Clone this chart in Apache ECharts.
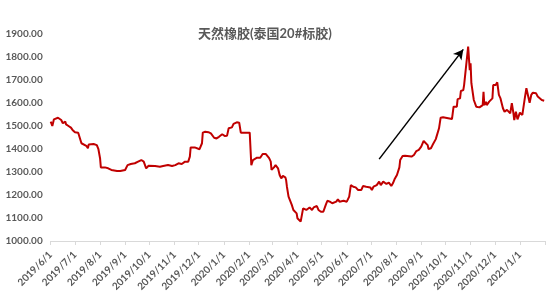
<!DOCTYPE html>
<html><head><meta charset="utf-8">
<script src="https://cdn.jsdelivr.net/npm/echarts@6/dist/echarts.min.js"></script>
<style>html,body{margin:0;padding:0;background:#fff}#c{width:550px;height:294px}</style>
</head><body><div id="c"></div>
<script>
const titleText = '天然橡胶(泰国20#标胶)';
const axisStart = '2019-06-01';
const axisEnd = '2021-02-01';
const yMin = 1000, yMax = 1900, yStep = 100;

const priceDates = [
'2019-06-01','2019-06-03','2019-06-05','2019-06-10','2019-06-12','2019-06-14','2019-06-16','2019-06-19','2019-06-20','2019-06-23',
'2019-06-26','2019-06-28','2019-06-30','2019-07-01','2019-07-03','2019-07-05','2019-07-07','2019-07-09','2019-07-11','2019-07-15',
'2019-07-17','2019-07-18','2019-07-24','2019-07-28','2019-07-30','2019-08-01','2019-08-02','2019-08-07','2019-08-11','2019-08-15',
'2019-08-17','2019-08-22','2019-08-24','2019-08-26','2019-08-28','2019-09-01','2019-09-04','2019-09-08','2019-09-13','2019-09-17',
'2019-09-21','2019-09-24','2019-09-27','2019-09-30','2019-10-08','2019-10-10','2019-10-14','2019-10-18','2019-10-20','2019-10-24',
'2019-10-29','2019-10-30','2019-11-02','2019-11-04','2019-11-06','2019-11-10','2019-11-14','2019-11-16','2019-11-18','2019-11-20',
'2019-11-21','2019-11-26','2019-11-28','2019-12-02','2019-12-05','2019-12-06','2019-12-09','2019-12-11','2019-12-13','2019-12-16',
'2019-12-18','2019-12-20','2019-12-23','2019-12-26','2019-12-28','2019-12-30','2020-01-02','2020-01-05','2020-01-07','2020-01-11',
'2020-01-13','2020-01-17','2020-01-20','2020-01-22','2020-02-02','2020-02-04','2020-02-06','2020-02-11','2020-02-15','2020-02-18',
'2020-02-22','2020-02-24','2020-02-26','2020-02-28','2020-02-29','2020-03-03','2020-03-05','2020-03-08','2020-03-10','2020-03-12',
'2020-03-14','2020-03-17','2020-03-18','2020-03-19','2020-03-21','2020-03-23','2020-03-25','2020-03-27','2020-03-29','2020-03-31',
'2020-04-01','2020-04-03','2020-04-05','2020-04-08','2020-04-12','2020-04-16','2020-04-19','2020-04-21','2020-04-25','2020-04-27',
'2020-04-30','2020-05-03','2020-05-06','2020-05-08','2020-05-11','2020-05-14','2020-05-19','2020-05-21','2020-05-23','2020-05-28',
'2020-06-01','2020-06-04','2020-06-06','2020-06-09','2020-06-12','2020-06-15','2020-06-17','2020-06-19','2020-06-21','2020-06-25',
'2020-06-30','2020-07-02','2020-07-04','2020-07-08','2020-07-11','2020-07-13','2020-07-16','2020-07-20','2020-07-23','2020-07-26',
'2020-07-28','2020-07-30','2020-08-02','2020-08-05','2020-08-06','2020-08-09','2020-08-12','2020-08-20','2020-08-23','2020-08-26',
'2020-08-29','2020-09-01','2020-09-04','2020-09-06','2020-09-09','2020-09-10','2020-09-13','2020-09-15','2020-09-17','2020-09-19',
'2020-09-21','2020-09-23','2020-09-25','2020-09-28','2020-09-30','2020-10-09','2020-10-11','2020-10-15','2020-10-16','2020-10-19',
'2020-10-20','2020-10-23','2020-10-24','2020-10-26','2020-10-29','2020-10-31','2020-11-01','2020-11-02','2020-11-05','2020-11-08',
'2020-11-12','2020-11-16','2020-11-17','2020-11-18','2020-11-20','2020-11-21','2020-11-24','2020-11-26','2020-11-28','2020-11-29',
'2020-12-02','2020-12-04','2020-12-06','2020-12-08','2020-12-11','2020-12-13','2020-12-16','2020-12-18','2020-12-20','2020-12-22',
'2020-12-24','2020-12-25','2020-12-27','2020-12-29','2021-01-01','2021-01-04','2021-01-07','2021-01-09','2021-01-11','2021-01-13',
'2021-01-15','2021-01-17','2021-01-21','2021-01-23','2021-01-25','2021-01-28','2021-01-30','2021-01-31'
];
const priceValues = [
1519,1500,1529,1536,1540,1526,1512,1519,1507,1500,
1493,1483,1490,1473,1468,1471,1468,1425,1420,1414,
1403,1420,1422,1417,1399,1360,1320,1320,1316,1309,
1301,1304,1299,1304,1312,1309,1330,1335,1338,1345,
1352,1345,1316,1327,1326,1320,1323,1326,1330,1330,
1326,1320,1330,1338,1338,1335,1345,1340,1345,1367,
1407,1407,1399,1399,1425,1471,1475,1480,1473,1468,
1461,1449,1446,1453,1457,1464,1457,1458,1490,1494,
1509,1516,1514,1471,1471,1330,1352,1362,1362,1378,
1378,1381,1360,1345,1309,1320,1330,1316,1287,1272,
1283,1277,1265,1236,1193,1186,1157,1135,1135,1120,
1099,1106,1084,1142,1135,1146,1135,1146,1152,1135,
1127,1127,1157,1175,1171,1164,1171,1181,1171,1175,
1171,1193,1243,1236,1233,1222,1229,1222,1239,1236,
1233,1222,1236,1243,1258,1243,1258,1248,1254,1239,
1251,1268,1287,1320,1352,1370,1371,1367,1374,1391,
1396,1410,1435,1429,1417,1400,1403,1417,1425,1443,
1447,1490,1536,1538,1533,1530,1584,1584,1617,1620,
1652,1656,1678,1686,1845,1743,1773,1686,1613,1584,
1581,1591,1649,1591,1606,1591,1606,1613,1620,1678,
1678,1690,1635,1620,1577,1562,1570,1562,1555,1599,
1555,1526,1562,1529,1558,1548,1620,1664,1660,1601,
1635,1645,1642,1628,1630,1613,1620,1610
];
const arrowFrom = ['2020-07-11', 1356];
const arrowTo = ['2020-10-23', 1833];

function fmt(s) { const p = s.split('-').map(Number); return p[0] + '/' + p[1] + '/' + p[2]; }
function toUTC(s) { const p = s.split('-').map(Number); return Date.UTC(p[0], p[1] - 1, p[2]); }

const categories = [];
for (let t = toUTC(axisStart); t <= toUTC(axisEnd); t += 86400000) {
  const d = new Date(t);
  categories.push(d.getUTCFullYear() + '/' + (d.getUTCMonth() + 1) + '/' + d.getUTCDate());
}
const valueMap = {};
priceDates.forEach((d, i) => { valueMap[fmt(d)] = priceValues[i]; });
const seriesData = categories.map(c => (c in valueMap ? valueMap[c] : null));
const isMonthStart = v => v.split('/')[2] === '1';

const chart = echarts.init(document.getElementById('c'), null, { renderer: 'canvas' });
chart.setOption({
  animation: false,
  title: {
    text: titleText, left: 193, top: 22,
    textStyle: { fontSize: 13, fontWeight: 'bold', color: '#595959', fontFamily: 'Lato, "Noto Sans CJK SC", sans-serif' }
  },
  grid: { left: 50.7, right: 5, top: 34, bottom: 53 },
  xAxis: {
    type: 'category', data: categories, boundaryGap: false,
    axisLine: { lineStyle: { color: '#d9d9d9', width: 1 } },
    axisTick: { interval: (i, v) => isMonthStart(v), length: 4, lineStyle: { color: '#d9d9d9' } },
    axisLabel: {
      interval: (i, v) => isMonthStart(v) && i < categories.length - 1,
      rotate: 45, margin: 12, fontSize: 10, fontWeight: 'bold', color: '#595959', fontFamily: 'Lato, sans-serif'
    },
    splitLine: { show: false }
  },
  yAxis: {
    type: 'value', min: yMin, max: yMax, interval: yStep,
    axisLine: { show: false }, axisTick: { show: false }, splitLine: { show: false },
    axisLabel: { formatter: v => v.toFixed(2), fontSize: 10, fontWeight: 'bold', color: '#595959', margin: 8, fontFamily: 'Lato, sans-serif' }
  },
  series: [{
    type: 'line', data: seriesData, connectNulls: true, showSymbol: false, symbol: 'none',
    lineStyle: { color: '#c00000', width: 2 }, itemStyle: { color: '#c00000' },
    markLine: {
      silent: true, symbol: ['none', 'arrow'], symbolSize: [8, 10],
      label: { show: false },
      lineStyle: { color: '#000000', width: 1.5, type: 'solid' },
      data: [[{ coord: [fmt(arrowFrom[0]), arrowFrom[1]] }, { coord: [fmt(arrowTo[0]), arrowTo[1]] }]]
    }
  }]
});
</script>
</body></html>
